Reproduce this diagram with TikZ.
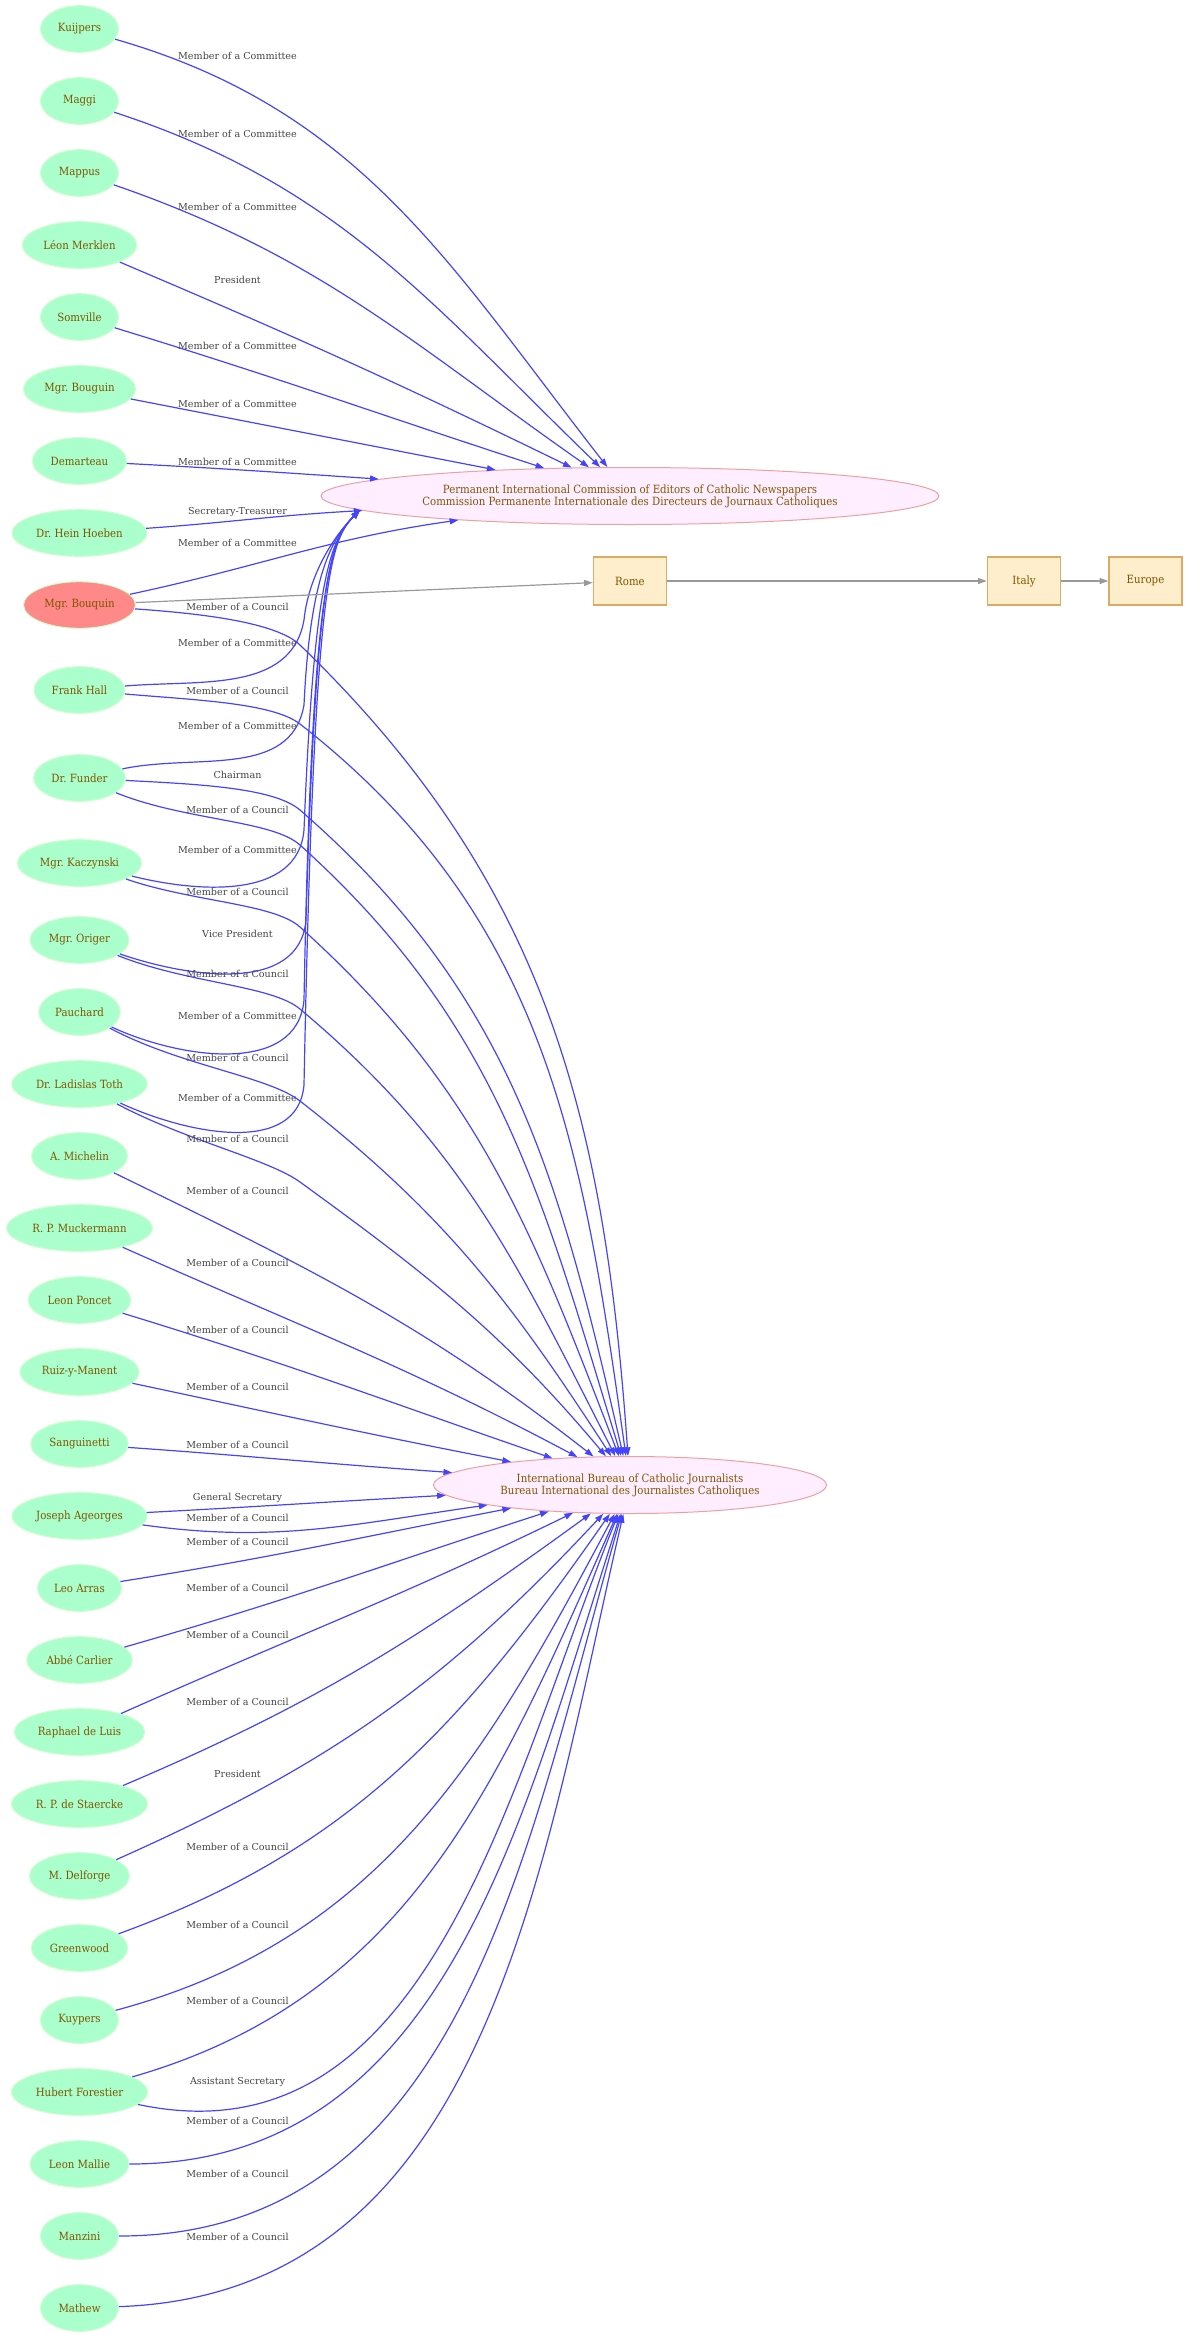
\documentclass[tikz,border=0pt]{standalone}
\usepackage{fontspec}
\setmainfont{DejaVu Serif}
\newfontfamily\nodefont[FakeStretch=0.9]{DejaVu Serif}
\usepackage{tikz}
\usetikzlibrary{arrows.meta, shapes.geometric}
\definecolor{personfill}{HTML}{AAFFCC}
\definecolor{personedge}{HTML}{CCFFCC}
\definecolor{leadfill}{HTML}{FF8888}
\definecolor{orgfill}{HTML}{FFEEFF}
\definecolor{orgedge}{HTML}{EEA0A0}
\definecolor{placefill}{HTML}{FFEECC}
\definecolor{placeedge}{HTML}{DDAA66}
\definecolor{nodetext}{HTML}{805500}
\definecolor{roleblue}{HTML}{4444FF}
\definecolor{geogray}{HTML}{999999}
\definecolor{lbltext}{HTML}{444444}
\tikzset{>={Triangle[length=6.5pt,width=4.5pt]}}
\tikzset{
  person/.style={ellipse, draw=personedge, fill=personfill, text=nodetext, line width=0.75pt,
    font=\nodefont\fontsize{8.5}{9}\selectfont, minimum width=58.5pt, minimum height=35pt,
    inner xsep=3.3pt, inner ysep=2pt},
  lead/.style={person, fill=leadfill},
  org/.style={ellipse, draw=orgedge, fill=orgfill, text=nodetext, line width=0.75pt, align=center,
    font=\nodefont\fontsize{8.5}{9}\selectfont, minimum height=42.75pt, inner sep=2pt},
  place/.style={rectangle, draw=placeedge, fill=placefill, text=nodetext, line width=1.1pt,
    font=\nodefont\fontsize{8.5}{9}\selectfont, minimum width=54.75pt, minimum height=36pt},
  role/.style={->, draw=roleblue, line width=0.9pt},
  geo/.style={->, draw=geogray, line width=0.9pt},
  lbl/.style={font=\fontsize{7.2}{8}\selectfont, text=lbltext, inner sep=0pt}
}

\begin{document}
\frenchspacing
\begin{tikzpicture}[x=0.75pt,y=-0.75pt]
\useasboundingbox (0,0) rectangle (1187,2337);
\node [person] (Kuijpers) at (79.5,29) {Kuijpers};
\node [person] (Maggi) at (79.5,101) {Maggi};
\node [person] (Mappus) at (79.5,173) {Mappus};
\node [person] (Merklen) at (79.5,245) {Léon Merklen};
\node [person] (Somville) at (79.5,317) {Somville};
\node [person] (Bouguin) at (79.5,389) {Mgr. Bouguin};
\node [person] (Demarteau) at (79.5,461) {Demarteau};
\node [person] (Hoeben) at (79.5,533) {Dr. Hein Hoeben};
\node [lead] (Bouquin) at (79.5,605) {Mgr. Bouquin};
\node [person] (Hall) at (79.5,690) {Frank Hall};
\node [person] (Funder) at (79.5,778) {Dr. Funder};
\node [person] (Kaczynski) at (79.5,863) {Mgr. Kaczynski};
\node [person] (Origer) at (79.5,940) {Mgr. Origer};
\node [person] (Pauchard) at (79.5,1012) {Pauchard};
\node [person] (Toth) at (79.5,1084) {Dr. Ladislas Toth};
\node [person] (Michelin) at (79.5,1156) {A. Michelin};
\node [person] (Muckermann) at (79.5,1228) {R. P. Muckermann};
\node [person] (Poncet) at (79.5,1300) {Leon Poncet};
\node [person] (Ruiz) at (79.5,1372) {Ruiz-y-Manent};
\node [person] (Sanguinetti) at (79.5,1444) {Sanguinetti};
\node [person] (Ageorges) at (79.5,1516) {Joseph Ageorges};
\node [person] (Arras) at (79.5,1588) {Leo Arras};
\node [person] (Carlier) at (79.5,1660) {Abbé Carlier};
\node [person] (Luis) at (79.5,1732) {Raphael de Luis};
\node [person] (Staercke) at (79.5,1804) {R. P. de Staercke};
\node [person] (Delforge) at (79.5,1876) {M. Delforge};
\node [person] (Greenwood) at (79.5,1948) {Greenwood};
\node [person] (Kuypers) at (79.5,2020) {Kuypers};
\node [person] (Forestier) at (79.5,2092) {Hubert Forestier};
\node [person] (Mallie) at (79.5,2164) {Leon Mallie};
\node [person] (Manzini) at (79.5,2236) {Manzini};
\node [person] (Mathew) at (79.5,2308) {Mathew};
\node [org, minimum width=463.5pt] (PIC) at (630,496) {Permanent International Commission of Editors of Catholic Newspapers\\Commission Permanente Internationale des Directeurs de Journaux Catholiques};
\node [org, minimum width=294.75pt] (IBCJ) at (630,1485) {International Bureau of Catholic Journalists\\Bureau International des Journalistes Catholiques};
\node [place] (Rome) at (630,581) {Rome};
\node [place] (Italy) at (1024,581) {Italy};
\node [place] (Europe) at (1145.5,581) {Europe};

\draw[role] (Kuijpers) to[out=-16,in=128] (PIC) node[lbl] at (237.5,55.5) {Member of a Committee};
\draw[role] (Maggi) to[out=-18,in=136] (PIC) node[lbl] at (237.5,133.6) {Member of a Committee};
\draw[role] (Mappus) to[out=-19,in=145] (PIC) node[lbl] at (237.5,207.4) {Member of a Committee};
\draw[role] (Merklen) to[out=-23,in=154] (PIC) node[lbl] at (237.5,279.8) {President};
\draw[role] (Somville) to[out=-17,in=162] (PIC) node[lbl] at (237.5,345.6) {Member of a Committee};
\draw[role] (Bouguin) to[out=-11,in=169] (PIC) node[lbl] at (237.5,403.7) {Member of a Committee};
\draw[role] (Demarteau) to[out=-3,in=176.5] (PIC) node[lbl] at (237.5,461.5) {Member of a Committee};
\draw[role] (Hoeben) to[out=4,in=183.5] (PIC) node[lbl] at (237.5,511.7) {Secretary-Treasurer};
\draw[role] (Bouquin) to[out=12,in=188] (PIC) node[lbl] at (237.5,543.4) {Member of a Committee};
\draw[role] (Hall) to[out=5,in=-100] (304,620) .. controls (308,580) and (330,540) .. (PIC.183.5) node[lbl] at (237.5,643.4) {Member of a Committee};
\draw[role] (Funder) to[out=12,in=-100] (304,705) .. controls (310,580) and (330,540) .. (PIC.183.5) node[lbl] at (237.5,726.4) {Member of a Committee};
\draw[role] (Kaczynski) to[out=-14,in=-95] (304,830) .. controls (314,580) and (330,540) .. (PIC.183.5) node[lbl] at (237.5,850.4) {Member of a Committee};
\draw[role] (Origer) to[out=-19,in=-95] (306,920) .. controls (316,580) and (330,540) .. (PIC.183.5) node[lbl] at (237.5,933.5) {Vice President};
\draw[role] (Pauchard) to[out=-25,in=-95] (304,1000) .. controls (312,580) and (330,540) .. (PIC.183.5) node[lbl] at (237.5,1015.7) {Member of a Committee};
\draw[role] (Toth) to[out=-25,in=-95] (304,1085) .. controls (314,580) and (330,540) .. (PIC.183.5) node[lbl] at (237.5,1098.4) {Member of a Committee};

\draw[role] (Bouquin) to[out=-4,in=136,in looseness=0.5] (300,645) to[out=-44,in=94] (IBCJ) node[lbl] at (237.5,606.6) {Member of a Council};
\draw[role] (Hall) to[out=-5,in=142,in looseness=0.5] (300,724) to[out=-38,in=98] (IBCJ) node[lbl] at (237.5,690.5) {Member of a Council};
\draw[role] (Funder) to[out=-3,in=139,in looseness=0.5] (300,810) to[out=-41,in=103] (IBCJ) node[lbl] at (237.5,775.4) {Chairman};
\draw[role] (Funder) to[out=-22,in=138,in looseness=0.5] (300,845) to[out=-42,in=107] (IBCJ) node[lbl] at (237.5,809.5) {Member of a Council};
\draw[role] (Kaczynski) to[out=-19,in=138,in looseness=0.5] (300,927) to[out=-42,in=111] (IBCJ) node[lbl] at (237.5,891.7) {Member of a Council};
\draw[role] (Origer) to[out=-22,in=140,in looseness=0.5] (300,1009) to[out=-40,in=117] (IBCJ) node[lbl] at (237.5,974.4) {Member of a Council};
\draw[role] (Pauchard) to[out=-28,in=142,in looseness=0.5] (300,1101) to[out=-38,in=123] (IBCJ) node[lbl] at (237.5,1057.5) {Member of a Council};
\draw[role] (Toth) to[out=-28,in=144,in looseness=0.5] (300,1182) to[out=-36,in=130] (IBCJ) node[lbl] at (237.5,1139.4) {Member of a Council};
\draw[role] (Michelin) to[out=-26,in=142] (IBCJ) node[lbl] at (237.5,1190.7) {Member of a Council};
\draw[role] (Muckermann) to[out=-24,in=152] (IBCJ) node[lbl] at (237.5,1262.6) {Member of a Council};
\draw[role] (Poncet) to[out=-17,in=161] (IBCJ) node[lbl] at (237.5,1329.6) {Member of a Council};
\draw[role] (Ruiz) to[out=-12,in=169] (IBCJ) node[lbl] at (237.5,1387.4) {Member of a Council};
\draw[role] (Sanguinetti) to[out=-4,in=176] (IBCJ) node[lbl] at (237.5,1445.2) {Member of a Council};
\draw[role] (Ageorges) to[out=3,in=183.5] (IBCJ) node[lbl] at (237.5,1498.4) {General Secretary};
\draw[role] (Ageorges) to[out=-8,in=188] (IBCJ) node[lbl] at (237.5,1517.5) {Member of a Council};
\draw[role] (Arras) to[out=9,in=191] (IBCJ) node[lbl] at (237.5,1542.4) {Member of a Council};
\draw[role] (Carlier) to[out=16,in=198] (IBCJ) node[lbl] at (237.5,1587.6) {Member of a Council};
\draw[role] (Luis) to[out=24,in=206] (IBCJ) node[lbl] at (237.5,1635.4) {Member of a Council};
\draw[role] (Staercke) to[out=23,in=216] (IBCJ) node[lbl] at (237.5,1702.4) {Member of a Council};
\draw[role] (Delforge) to[out=24,in=227] (IBCJ) node[lbl] at (237.5,1774) {President};
\draw[role] (Greenwood) to[out=20,in=235] (IBCJ) node[lbl] at (237.5,1847) {Member of a Council};
\draw[role] (Kuypers) to[out=15,in=242] (IBCJ) node[lbl] at (237.5,1925) {Member of a Council};
\draw[role] (Forestier) to[out=16,in=246] (IBCJ) node[lbl] at (237.5,2001) {Member of a Council};
\draw[role] (Forestier) to[out=-12,in=248] (IBCJ) node[lbl] at (237.5,2082) {Assistant Secretary};
\draw[role] (Mallie) to[out=0,in=252] (IBCJ) node[lbl] at (237.5,2121) {Member of a Council};
\draw[role] (Manzini) to[out=0,in=254] (IBCJ) node[lbl] at (237.5,2174) {Member of a Council};
\draw[role] (Mathew) to[out=2,in=257] (IBCJ) node[lbl] at (237.5,2237) {Member of a Council};

\draw[geo] (Bouquin) -- (Rome);
\draw[geo] (Rome) -- (Italy);
\draw[geo] (Italy) -- (Europe);
\end{tikzpicture}
\end{document}
